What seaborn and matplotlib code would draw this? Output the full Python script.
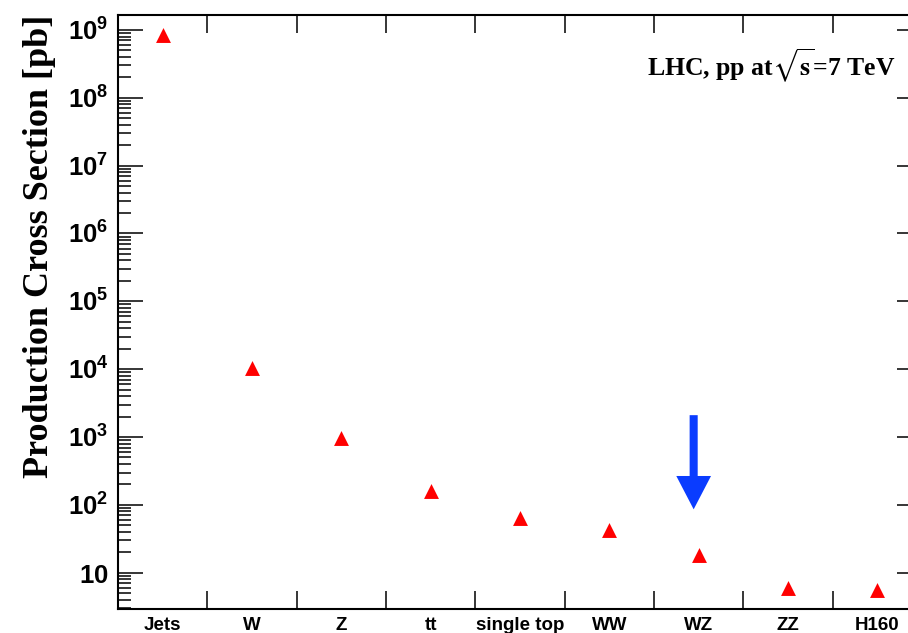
import numpy as np
import pandas as pd
import matplotlib
matplotlib.use("Agg")
import matplotlib.pyplot as plt
import seaborn as sns
from matplotlib.ticker import FixedLocator, FixedFormatter, LogLocator, NullFormatter

# Production cross sections at the LHC, sqrt(s) = 7 TeV
processes = ["Jets", "W", "Z", "tt", "single top", "WW", "WZ", "ZZ", "H160"]
cross_section_pb = [8.5e8, 1.03e4, 960, 160, 64, 43, 18, 5.9, 5.6]

# Highlighted process (arrow start / tip in pb)
arrow_process = "WZ"
arrow_from_pb = 2.1e3
arrow_to_pb = 86

ytick_values = [10, 1e2, 1e3, 1e4, 1e5, 1e6, 1e7, 1e8, 1e9]
ytick_labels = ["10", "10^{2}", "10^{3}", "10^{4}", "10^{5}", "10^{6}", "10^{7}", "10^{8}", "10^{9}"]

df = pd.DataFrame({"process": processes, "xsec": cross_section_pb})

sns.set_theme(style="white")
plt.rcParams["mathtext.fontset"] = "custom"
plt.rcParams["mathtext.bf"] = "Liberation Sans:bold"
plt.rcParams["mathtext.rm"] = "Liberation Sans:bold"

W, H = 908, 633
fig = plt.figure(figsize=(W / 100, H / 100), dpi=100)
ax = fig.add_axes([118 / W, (H - 609) / H, 804 / W, 594 / H])

sns.scatterplot(data=df, x="process", y="xsec", marker="^", s=115,
                color="#ff0000", linewidth=0, ax=ax, zorder=3)

ax.set_yscale("log")
ax.set_ylim(2.92, 1.66e9)
n = len(processes)
ax.set_xlim(-0.5, n - 0.5)
ax.set_xlabel("")
ax.set_ylabel("")

# x axis: labels at the category centres, ticks on the bin boundaries
ax.xaxis.set_major_locator(FixedLocator(np.arange(n)))
ax.xaxis.set_major_formatter(FixedFormatter(processes))
ax.xaxis.set_minor_locator(FixedLocator(np.arange(n - 1) + 0.5))
ax.tick_params(axis="x", which="major", length=0, pad=5.5, labelsize=13.5,
               labelcolor="black")
ax.tick_params(axis="x", which="minor", direction="in", length=13, width=1.1,
               top=True, bottom=True, color="black")
for lab in ax.get_xticklabels():
    lab.set_fontfamily("Liberation Sans")
    lab.set_fontweight("bold")

# y axis: decades labelled, minor ticks in between
ax.yaxis.set_major_locator(FixedLocator(ytick_values))
ax.yaxis.set_major_formatter(FixedFormatter([r"$\mathbf{%s}$" % t for t in ytick_labels]))
ax.yaxis.set_minor_locator(LogLocator(base=10, subs=np.arange(2, 10), numticks=20))
ax.yaxis.set_minor_formatter(NullFormatter())
ax.tick_params(axis="y", which="major", direction="in", length=18, width=1.1,
               left=True, right=True, pad=7, labelsize=18.5, color="black",
               labelcolor="black")
ax.tick_params(axis="y", which="minor", direction="in", length=9.5, width=1.1,
               left=True, right=True, color="black")

for sp in ax.spines.values():
    sp.set_visible(True)
    sp.set_color("black")
    sp.set_linewidth(1.5)

# Arrow pointing at the highlighted process
xa = processes.index(arrow_process) - 0.056
ax.annotate("", xy=(xa, arrow_to_pb), xytext=(xa, arrow_from_pb),
            arrowprops=dict(arrowstyle="simple,head_width=2.5,head_length=2.4,tail_width=0.58",
                            mutation_scale=10, color="#0a3cff", lw=0,
                            shrinkA=0, shrinkB=0), zorder=4)

fig.text(40 / W, 1 - 15 / H, "Production Cross Section [pb]", rotation=90,
         ha="center", va="top", fontsize=26, fontweight="bold",
         fontfamily="Liberation Serif", color="black")

fig.text(895 / W, 1 - 76 / H, r"LHC, pp at$\sqrt{\mathbf{s}}$=7 TeV",
         ha="right", va="baseline", fontsize=18.5, fontweight="bold",
         fontfamily="Liberation Serif", math_fontfamily="stix", color="black")

fig.savefig("out.png", dpi=100)
